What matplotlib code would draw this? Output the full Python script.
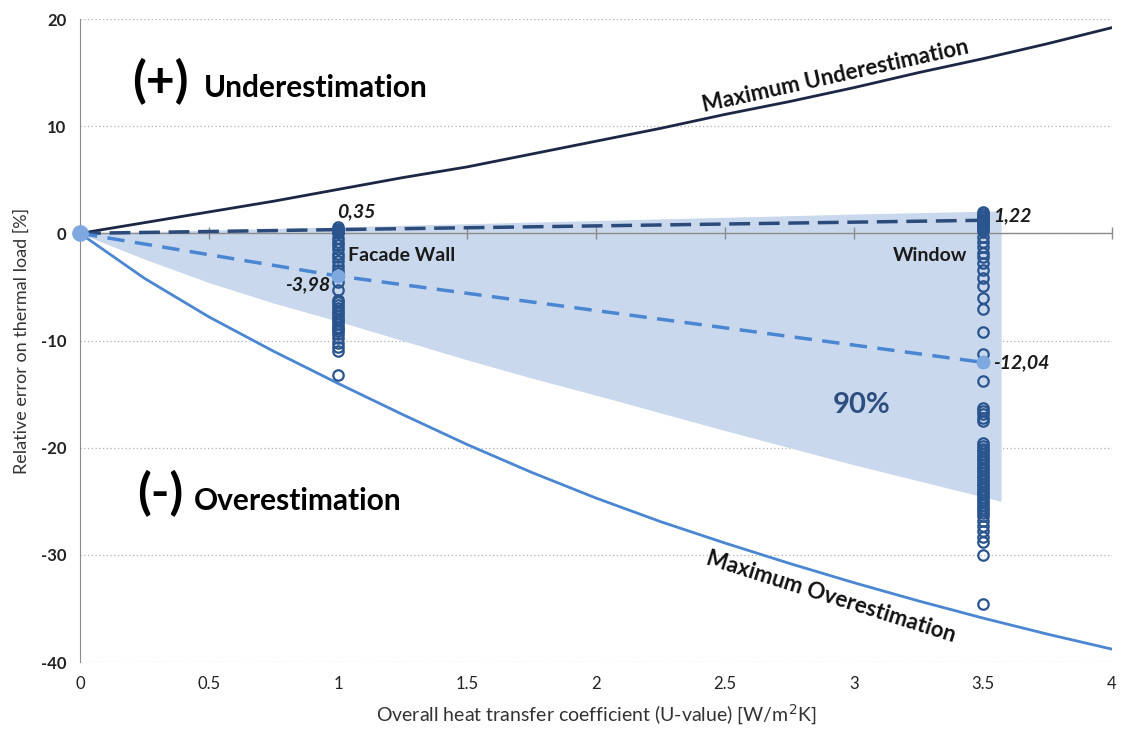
import numpy as np
import matplotlib.pyplot as plt

plt.rcParams['font.family'] = ['Lato', 'DejaVu Sans']
plt.rcParams['axes.unicode_minus'] = False

# U-value grid for the envelope curves
u_grid = [0, 0.25, 0.5, 0.75, 1, 1.25, 1.5, 1.75, 2, 2.25, 2.5, 2.75, 3, 3.25,
          3.5, 3.75, 4]
max_under = [0, 1.0, 2.0, 3.0, 4.1, 5.2, 6.2, 7.4, 8.6, 9.8, 11.1, 12.3, 13.6,
             15.0, 16.3, 17.7, 19.2]
max_over = [0, -4.2, -7.8, -11.0, -14.0, -16.9, -19.7, -22.3, -24.7, -26.9,
            -28.9, -30.8, -32.6, -34.3, -35.9, -37.4, -38.8]

# 90 % band
band_u = [0, 0.25, 0.5, 0.75, 1, 1.25, 1.5, 1.75, 2, 2.5, 3, 3.57]
band_upper = [0, 0.15, 0.3, 0.45, 0.6, 0.75, 0.9, 1.05, 1.2, 1.5, 1.8, 2.1]
band_lower = [0, -2.4, -4.6, -6.5, -8.2, -10.0, -11.8, -13.5, -15.1, -18.4,
              -21.6, -25.0]

# components
u_facade = 1.0
u_window = 3.5
mean_u = [0, u_facade, u_window]
mean_under = [0, 0.35, 1.22]
mean_over = [0, -3.98, -12.04]

facade_err = [0.55, 0.45, 0.25, 0.15, 0.0, -0.4, -0.8, -1.1, -1.5, -1.9, -2.2,
              -2.6, -3.0, -3.4, -3.7, -4.5, -5.3, -6.2, -6.45, -6.7, -6.95,
              -7.2, -7.45, -7.7, -7.95, -8.2, -8.45, -8.7, -8.95, -9.1, -9.4,
              -9.8, -10.2, -10.6, -11.0, -13.2]
window_err = [1.95, 1.8, 1.65, 1.5, 1.35, 1.05, 0.9, 0.75, 0.6, 0.45, 0.2, -0.3,
              -0.8, -1.3, -1.8, -2.2, -2.8, -3.4, -4.2, -4.9, -6.0, -7.1, -9.2,
              -11.3, -13.8, -16.3, -16.6, -16.9, -17.2, -17.5, -19.6, -19.85,
              -20.1, -20.35, -20.6, -20.85, -21.1, -21.35, -21.6, -21.85, -22.1,
              -22.35, -22.6, -22.85, -23.1, -23.35, -23.6, -23.85, -24.1, -24.35,
              -24.6, -24.85, -25.1, -25.35, -25.6, -25.85, -26.1, -26.4, -26.8,
              -27.3, -27.8, -28.3, -28.8, -30.0, -34.6]

x_ticks = [0, 0.5, 1, 1.5, 2, 2.5, 3, 3.5, 4]
x_labels = ['0', '0.5', '1', '1.5', '2', '2.5', '3', '3.5', '4']
y_ticks = [20, 10, 0, -10, -20, -30, -40]

navy = '#1c2745'
dark_blue = '#2a548e'
mid_blue = '#4a86d2'
light_blue = '#7ea9de'
band_color = '#c9d8ec'

fig = plt.figure(figsize=(11.21, 7.32), dpi=100)
ax = fig.add_axes([0.0714, 0.0956, 0.9206, 0.8784])

ax.fill_between(band_u, band_lower, band_upper, color=band_color, lw=0, zorder=1)

# axis line at zero with tick marks
ax.axhline(0, color='#8c8c8c', lw=1.0, zorder=2)
ax.plot(x_ticks[1:], [0] * (len(x_ticks) - 1), '|', color='#8c8c8c', ms=9, mew=1.0,
        zorder=2, clip_on=False)

ax.plot(u_grid, max_under, color=navy, lw=2.0, zorder=3)
ax.plot(u_grid, max_over, color=mid_blue, lw=2.0, zorder=3)

ax.plot(mean_u, mean_under, color='#2c4b7b', lw=2.5, ls=(0, (6, 2.5)), zorder=4)
ax.plot(mean_u, mean_over, color=mid_blue, lw=2.5, ls=(0, (5, 3)), zorder=4)

ax.plot([u_facade] * len(facade_err), facade_err, 'o', ms=7.5, mfc='none',
        mec=dark_blue, mew=1.6, zorder=5)
ax.plot([u_window] * len(window_err), window_err, 'o', ms=7.5, mfc='none',
        mec=dark_blue, mew=1.6, zorder=5)

ax.plot(mean_u[1:], mean_under[1:], 'o', ms=8, color=dark_blue, zorder=6)
ax.plot(mean_u[1:], mean_over[1:], 'o', ms=9, color=light_blue, zorder=6)
ax.plot(mean_u[:1], mean_over[:1], 'o', ms=11, color=light_blue, zorder=7, clip_on=False)

# value labels
lab = dict(fontsize=14, fontweight='bold', style='italic', color='#1a1a1a', zorder=8)
ax.text(mean_u[1] + 0.07, mean_under[1] + 1.7, f"{mean_under[1]:.2f}".replace('.', ','),
        ha='center', va='center', **lab)
ax.text(mean_u[2] + 0.04, mean_under[2] + 0.4, f"{mean_under[2]:.2f}".replace('.', ','),
        ha='left', va='center', **lab)
ax.text(mean_u[1] - 0.03, mean_over[1] - 0.8, f"{mean_over[1]:.2f}".replace('.', ','),
        ha='right', va='center', **lab)
ax.text(mean_u[2] + 0.04, mean_over[2], f"{mean_over[2]:.2f}".replace('.', ','),
        ha='left', va='center', **lab)

ax.text(1.04, -2.1, 'Facade Wall', fontsize=14, fontweight='bold', color='#1a1a1a',
        ha='left', va='center', zorder=8)
ax.text(3.44, -2.1, 'Window', fontsize=14, fontweight='bold', color='#1a1a1a',
        ha='right', va='center', zorder=8)
ax.text(3.03, -16.0, '90%', fontsize=21, fontweight='bold', color='#2d4f80',
        ha='center', va='center', zorder=8)

ax.text(2.93, 14.7, 'Maximum Underestimation', fontsize=16, fontweight='bold',
        color='#111111', rotation=12.5, ha='center', va='center')
ax.text(2.91, -33.9, 'Maximum Overestimation', fontsize=16, fontweight='bold',
        color='#111111', rotation=-17.5, ha='center', va='center')

ax.text(0.31, 14.2, '(+)', fontsize=36, fontweight='bold', ha='center', va='center')
ax.text(0.48, 13.6, 'Underestimation', fontsize=21.5, fontweight='bold', ha='left',
        va='center')
ax.text(0.31, -24.3, '(-)', fontsize=36, fontweight='bold', ha='center', va='center')
ax.text(0.44, -25.0, 'Overestimation', fontsize=21.5, fontweight='bold', ha='left',
        va='center')

ax.set_xlim(0, 4)
ax.set_ylim(-40, 20)
ax.set_xticks(x_ticks)
ax.set_xticklabels(x_labels)
ax.set_yticks(y_ticks)
ax.set_yticklabels([str(v) for v in y_ticks], fontweight='bold')
ax.tick_params(axis='x', length=0, pad=10, labelsize=12, labelcolor='#222222')
ax.tick_params(axis='y', length=0, pad=10, labelsize=12, labelcolor='#222222')
ax.yaxis.grid(True, ls=(0, (1, 2)), color='#b0b0b0', lw=0.9)
ax.set_axisbelow(True)

for side in ['top', 'right', 'bottom']:
    ax.spines[side].set_visible(False)
ax.spines['left'].set_color('#8c8c8c')

ax.set_xlabel('Overall heat transfer coefficient (U-value) [W/m$^2$K]', fontsize=14,
              color='#333333', labelpad=8)
ax.set_ylabel('Relative error on thermal load [%]', fontsize=13, color='#333333',
              labelpad=8)

fig.savefig('out.png', dpi=100)
